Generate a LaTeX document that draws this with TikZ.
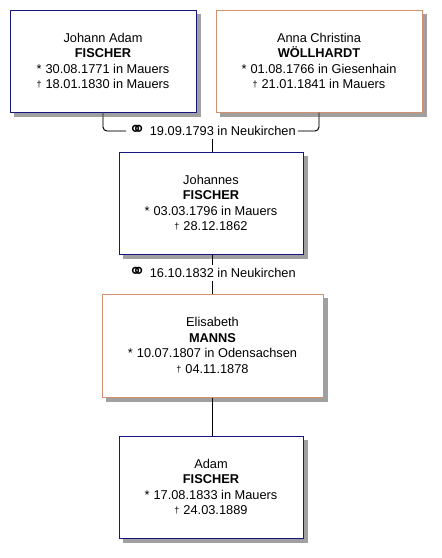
\documentclass[tikz,border=0pt]{standalone}
\usepackage{fontspec}
\setmainfont{Liberation Sans}
\newfontfamily\symfont{DejaVu Sans}
\definecolor{LineMale}{HTML}{16167F}
\definecolor{LineFemale}{HTML}{D48F6E}
\definecolor{ShadowGrey}{RGB}{160,160,160}
\tikzset{
  every node/.style={font=\fontsize{12.8}{15.6}\selectfont, text=black},
  person/.style={fill=white, line width=1pt, align=center, inner sep=0pt},
  male/.style={person, draw=LineMale},
  female/.style={person, draw=LineFemale},
  boxshade/.style={draw=ShadowGrey, line width=3.5pt, line join=miter},
  marriage/.style={inner sep=2pt},
  link/.style={draw=black, line width=0.9pt, rounded corners=4pt},
  linkshade/.style={draw=ShadowGrey!70, line width=0.9pt, rounded corners=4pt, shift={(1.6,1.6)}},
}
\newcommand{\born}{*\hspace{4pt}}
\newcommand{\died}{\raisebox{1pt}{\small †}\hspace{4pt}}
\newcommand{\wed}{\raisebox{-1pt}{\symfont\fontsize{21}{15}\selectfont\char"26AD}\hspace{4pt}}

\begin{document}
\begin{tikzpicture}[x=1pt, y=-1pt]
  \useasboundingbox (0,0) rectangle (442,558);
  % Persons
  \node[male, minimum width=186pt, minimum height=102pt] (father) at (103,61)
    {Johann Adam\\\textbf{FISCHER}\\\born 30.08.1771 in Mauers\\\died 18.01.1830 in Mauers};
  \node[female, minimum width=206pt, minimum height=102pt] (mother) at (319,61)
    {Anna Christina\\\textbf{WÖLLHARDT}\\\born 01.08.1766 in Giesenhain\\\died 21.01.1841 in Mauers};
  \node[male, minimum width=184pt, minimum height=102pt] (son) at (211,203)
    {Johannes\\\textbf{FISCHER}\\\born 03.03.1796 in Mauers\\\died 28.12.1862};
  \node[female, minimum width=221pt, minimum height=103pt] (wife) at (212.5,345.5)
    {Elisabeth\\\textbf{MANNS}\\\born 10.07.1807 in Odensachsen\\\died 04.11.1878};
  \node[male, minimum width=184pt, minimum height=102pt] (grandson) at (211,487)
    {Adam\\\textbf{FISCHER}\\\born 17.08.1833 in Mauers\\\died 24.03.1889};
  % Box shadows (right and bottom strips)
  \foreach \p in {father,mother,son,wife,grandson}
    \draw[boxshade] ([shift={(2.25,4)}]\p.north east) -- ([shift={(2.25,2.25)}]\p.south east)
      -- ([shift={(4,2.25)}]\p.south west);
  % Marriages
  \node[marriage] (wed1) at (212,131) {\wed 19.09.1793 in Neukirchen};
  \node[marriage] (wed2) at (212,273) {\wed 16.10.1832 in Neukirchen};
  % Connectors (shade first)
  \draw[linkshade] (father.south) |- (wed1.west);
  \draw[linkshade] (mother.south) |- (wed1.east);
  \draw[linkshade] (wed1.south) -- (wed1.south |- son.north);
  \draw[linkshade] (wed2.north |- son.south) -- (wed2.north);
  \draw[linkshade] (wed2.south) -- (wed2.south |- wife.north);
  \draw[linkshade] (wed2.south |- wife.south) -- (wed2.south |- grandson.north);
  \draw[link] (father.south) |- (wed1.west);
  \draw[link] (mother.south) |- (wed1.east);
  \draw[link] (wed1.south) -- (wed1.south |- son.north);
  \draw[link] (wed2.north |- son.south) -- (wed2.north);
  \draw[link] (wed2.south) -- (wed2.south |- wife.north);
  \draw[link] (wed2.south |- wife.south) -- (wed2.south |- grandson.north);
\end{tikzpicture}
\end{document}
